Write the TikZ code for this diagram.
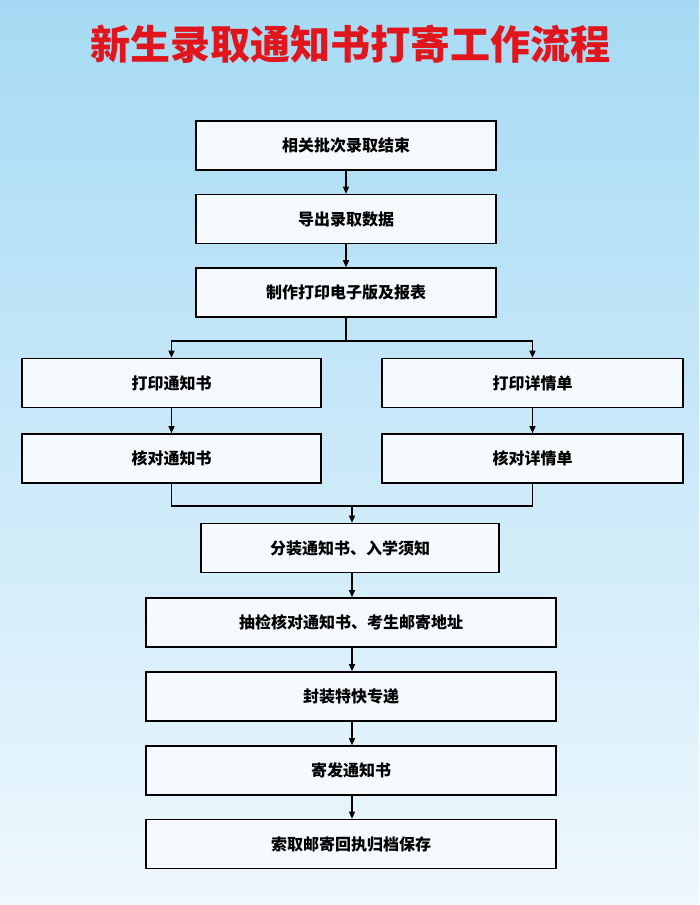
\documentclass[tikz,border=0pt]{standalone}
\usepackage{fontspec}
\newfontfamily\cjk{Noto Sans CJK SC}
\usetikzlibrary{arrows.meta,positioning}
\definecolor{skytop}{HTML}{A6DAF4}
\definecolor{skybot}{HTML}{EEF8FD}
\definecolor{boxfill}{HTML}{F4FAFE}
\definecolor{titlered}{HTML}{E0161C}
\begin{document}
\begin{tikzpicture}[x=1pt,y=-1pt,>={Triangle[length=7pt,width=6pt]},
        thick,
        step box/.style={draw,line width=1.6pt,fill=boxfill,minimum height=49pt,inner sep=0pt,font=\cjk\bfseries\fontsize{16}{19}\selectfont},
        flow/.style={->,line width=1.3pt},
        link/.style={line width=1.3pt}]
      \shade[top color=skytop,bottom color=skybot] (0,0) rectangle (699,905);
      \useasboundingbox (0,0) rectangle (699,905);

      \node[font=\cjk\bfseries\fontsize{40}{44}\selectfont,text=titlered] (title) at (350,44) {新生录取通知书打寄工作流程};

      \node[step box,minimum width=300pt] (1) at (346,145.5) {相关批次录取结束};
      \node[step box,minimum width=300pt] (2) at (346,219) {导出录取数据};
      \node[step box,minimum width=300pt] (3) at (346,292.5) {制作打印电子版及报表};
      \node[step box,minimum width=299pt] (4l) at (171.5,383) {打印通知书};
      \node[step box,minimum width=301pt] (4r) at (532.5,383) {打印详情单};
      \node[step box,minimum width=299pt] (5l) at (171.5,458.5) {核对通知书};
      \node[step box,minimum width=301pt] (5r) at (532.5,458.5) {核对详情单};
      \node[step box,minimum width=298pt] (6) at (350,548) {分装通知书、入学须知};
      \node[step box,minimum width=410pt] (7) at (351,622.5) {抽检核对通知书、考生邮寄地址};
      \node[step box,minimum width=410pt] (8) at (351,696.5) {封装特快专递};
      \node[step box,minimum width=410pt] (9) at (351,770.5) {寄发通知书};
      \node[step box,minimum width=410pt] (10) at (351,844) {索取邮寄回执归档保存};

      \coordinate (split) at (346,341);
      \coordinate (merge) at (352,506);

      \draw[flow] (1) -- (2);
      \draw[flow] (2) -- (3);
      \draw[link] (3) -- (split);
      \draw[flow] (split) -| (4l);
      \draw[flow] (split) -| (4r);
      \draw[flow] (4l) -- (5l);
      \draw[flow] (4r) -- (5r);
      \draw[link] (5l) |- (merge);
      \draw[link] (5r) |- (merge);
      \draw[flow] (merge) -- (merge |- 6.north);
      \draw[flow] (6.south -| 352,0) -- (7.north -| 352,0);
      \draw[flow] (7.south -| 352,0) -- (8.north -| 352,0);
      \draw[flow] (8.south -| 352,0) -- (9.north -| 352,0);
      \draw[flow] (9.south -| 352,0) -- (10.north -| 352,0);
\end{tikzpicture}
\end{document}
